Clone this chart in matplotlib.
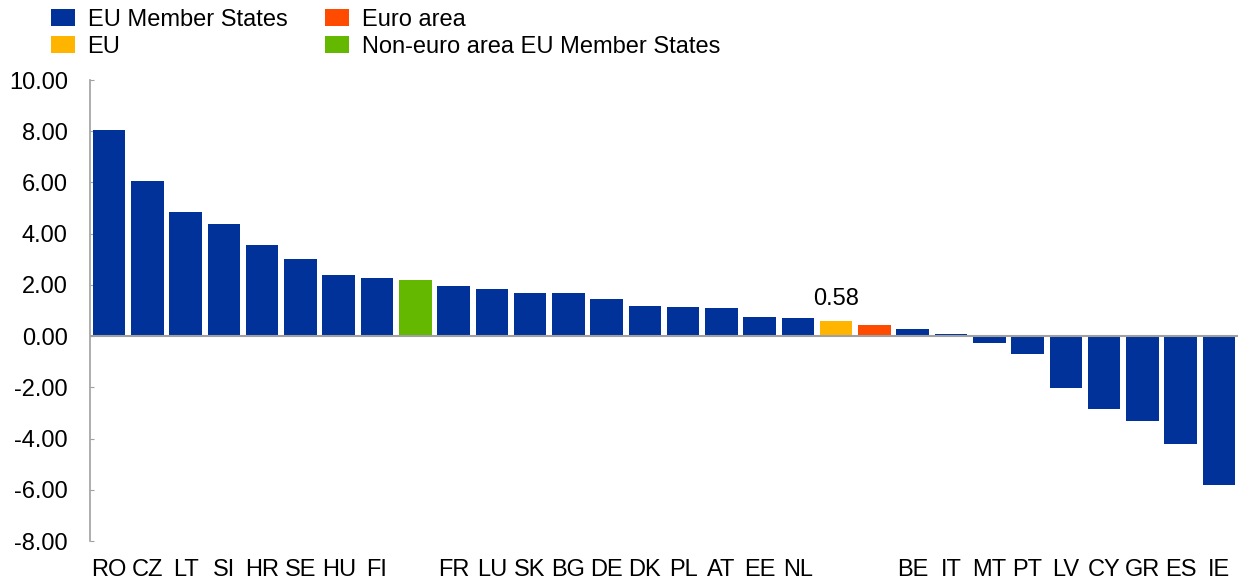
import numpy as np
import matplotlib
matplotlib.use('Agg')
import matplotlib.pyplot as plt
from matplotlib.patches import Patch
from matplotlib.ticker import FuncFormatter

plt.rcParams['font.family'] = ['Liberation Sans', 'DejaVu Sans']

# data
labels = ['RO', 'CZ', 'LT', 'SI', 'HR', 'SE', 'HU', 'FI', '',
          'FR', 'LU', 'SK', 'BG', 'DE', 'DK', 'PL', 'AT', 'EE', 'NL', '', '',
          'BE', 'IT', 'MT', 'PT', 'LV', 'CY', 'GR', 'ES', 'IE']
values = [8.05, 6.07, 4.86, 4.36, 3.57, 3.00, 2.37, 2.27, 2.20,
          1.95, 1.86, 1.70, 1.70, 1.45, 1.19, 1.14, 1.09, 0.74, 0.69, 0.58, 0.42,
          0.26, 0.10, -0.28, -0.69, -2.04, -2.85, -3.33, -4.21, -5.81]
groups = ['ms'] * 8 + ['noneuro'] + ['ms'] * 10 + ['eu', 'ea'] + ['ms'] * 9

colors = {'ms': '#003299', 'eu': '#FFB400', 'ea': '#FF4B00', 'noneuro': '#65B800'}
names = {'ms': 'EU Member States', 'eu': 'EU', 'ea': 'Euro area',
         'noneuro': 'Non-euro area EU Member States'}
labelled = 'eu'
fs = 17

fig = plt.figure(figsize=(12.41, 5.82), dpi=100)
ax = fig.add_axes([0.0725, 0.0704, 0.9251, 0.7921])

x = np.arange(len(values))
ax.bar(x, values, width=0.85, color=[colors[g] for g in groups], zorder=2)
ax.axhline(0, color='#a0a0a0', lw=1.5, zorder=3)

i = groups.index(labelled)
ax.annotate('%.2f' % values[i], (x[i], values[i]), xytext=(0, 8),
            textcoords='offset points', ha='center', va='bottom', fontsize=fs)

ax.set_xlim(-0.5, len(values) - 0.5)
ax.set_ylim(-8, 10)
ax.set_yticks(np.arange(-8, 11, 2))
ax.yaxis.set_major_formatter(FuncFormatter(lambda v, p: '%.2f' % v))
ax.set_xticks(x)
ax.set_xticklabels(labels)

for s in ['top', 'right', 'bottom']:
    ax.spines[s].set_visible(False)
ax.spines['left'].set_color('#a0a0a0')
ax.spines['left'].set_linewidth(1.2)
ax.tick_params(axis='y', direction='in', length=3, color='#a0a0a0',
               labelsize=fs, pad=16)
ax.tick_params(axis='x', length=0, labelsize=fs, pad=13)

order = ['ms', 'eu', 'ea', 'noneuro']
handles = [Patch(facecolor=colors[k], label=names[k]) for k in order]
fig.legend(handles=handles, ncol=2, loc='upper left',
           bbox_to_anchor=(51 / 1241, 1 - 9 / 582), frameon=False,
           fontsize=fs, handlelength=1.0, handleheight=0.7,
           handletextpad=0.55, columnspacing=1.6, labelspacing=0.2,
           borderpad=0, borderaxespad=0)

fig.savefig('out.png', dpi=100)
